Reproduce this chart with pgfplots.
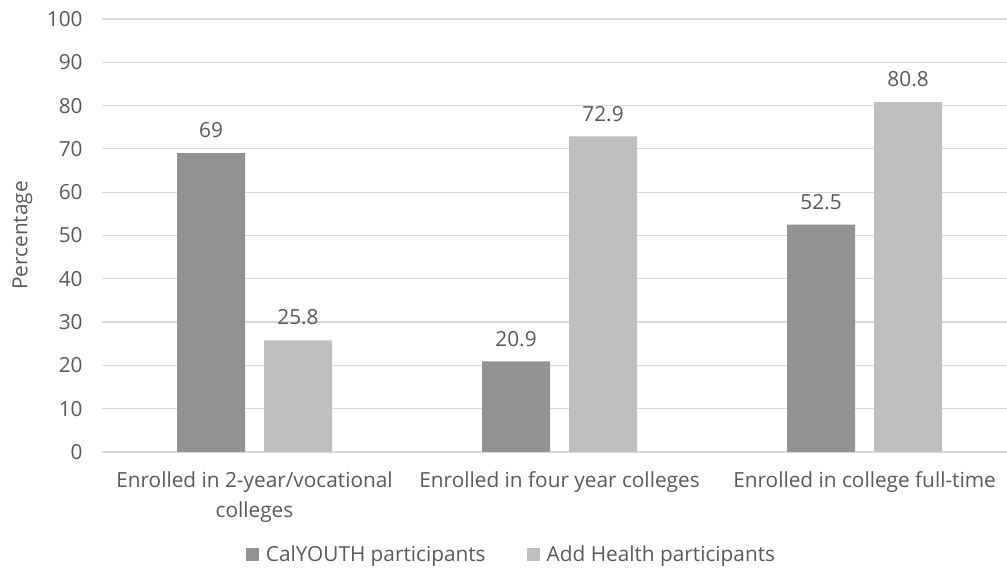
\documentclass[border=0pt]{standalone}
\usepackage{pgfplots}
\pgfplotsset{compat=1.18}
\usepackage{fontspec}
\setmainfont{Open Sans}
\definecolor{cdark}{HTML}{929292}
\definecolor{clight}{HTML}{BFBFBF}
\definecolor{ctext}{HTML}{595959}
\definecolor{cgrid}{HTML}{D9D9D9}
\begin{document}
\begin{tikzpicture}[x=1pt,y=1pt]
\useasboundingbox (0,0) rectangle (755.25,435);
\begin{axis}[
  at={(76.5pt,96pt)}, anchor=south west,
  scale only axis, width=678.75pt, height=324.75pt,
  ybar=14.25pt, bar width=51pt,
  xmin=-0.5, xmax=2.467, ymin=0, ymax=100,
  xtick={0,1,2},
  xticklabels={{Enrolled in 2-year/vocational\\colleges},{Enrolled in four year colleges},{Enrolled in college full-time}},
  xticklabel style={align=center, anchor=north, yshift=-11pt, font={\fontsize{15.6}{22.5}\selectfont}, text=ctext},
  ytick={0,10,...,100},
  yticklabel style={font={\fontsize{15.6}{18}\selectfont}, text=ctext, xshift=-11pt},
  /pgf/number format/assume math mode=true,
  major tick length=0pt,
  axis line style={draw=none},
  ymajorgrids, grid style={cgrid, line width=0.9pt},
  ylabel={Percentage},
  ylabel style={at={(axis description cs:-0.088,0.5)}, anchor=center, font={\fontsize{15.6}{18}\selectfont}, text=ctext},
  nodes near coords,
  nodes near coords style={anchor=center, yshift=17pt, font={\fontsize{15.6}{18}\selectfont}, text=ctext},
  legend style={at={(axis description cs:0.453,-0.236)}, anchor=center, draw=none, fill=none,
    legend columns=2, font={\fontsize{15.6}{18}\selectfont}, text=ctext,
    /tikz/every odd column/.append style={column sep=3pt},
    /tikz/every even column/.append style={column sep=29pt}},
  legend image code/.code={\fill[#1] (0pt,-4.9pt) rectangle (9.8pt,4.9pt);},
]
\addplot[fill=cdark, draw=none] coordinates {(0,69) (1,20.9) (2,52.5)};
\addplot[fill=clight, draw=none] coordinates {(0,25.8) (1,72.9) (2,80.8)};
\legend{CalYOUTH participants, Add Health participants}
\end{axis}
\end{tikzpicture}
\end{document}
